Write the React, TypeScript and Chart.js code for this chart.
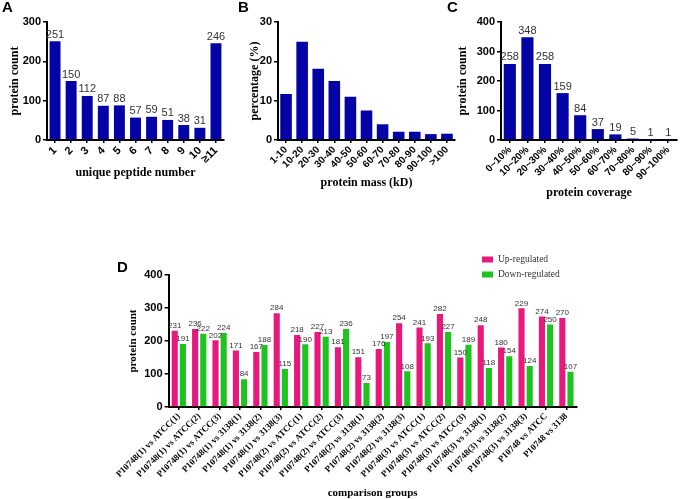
import React, { useEffect, useRef } from 'react';
import { Chart, registerables } from 'chart.js';

Chart.register(...registerables);

// ---------- Data ----------
const peptideLabels = ['1', '2', '3', '4', '5', '6', '7', '8', '9', '10', '≥11'];
const peptideCounts = [251, 150, 112, 87, 88, 57, 59, 51, 38, 31, 246];

const massLabels = ['1-10', '10-20', '20-30', '30-40', '40-50', '50-60', '60-70', '70-80', '80-90', '90-100', '>100'];
const massPercent = [11.7, 25, 18.1, 15, 11, 7.5, 4, 2.1, 2.1, 1.5, 1.6];

const coverageLabels = ['0~10%', '10~20%', '20~30%', '30~40%', '40~50%', '50~60%', '60~70%', '70~80%', '80~90%', '90~100%'];
const coverageCounts = [258, 348, 258, 159, 84, 37, 19, 5, 1, 1];

const groupLabels = [
  'P10748(1) vs ATCC(1)', 'P10748(1) vs ATCC(2)', 'P10748(1) vs ATCC(3)',
  'P10748(1) vs 3138(1)', 'P10748(1) vs 3138(2)', 'P10748(1) vs 3138(3)',
  'P10748(2) vs ATCC(1)', 'P10748(2) vs ATCC(2)', 'P10748(2) vs ATCC(3)',
  'P10748(2) vs 3138(1)', 'P10748(2) vs 3138(2)', 'P10748(2) vs 3138(3)',
  'P10748(3) vs ATCC(1)', 'P10748(3) vs ATCC(2)', 'P10748(3) vs ATCC(3)',
  'P10748(3) vs 3138(1)', 'P10748(3) vs 3138(2)', 'P10748(3) vs 3138(3)',
  'P10748 vs ATCC', 'P10748 vs 3138',
];
const upValues = [231, 236, 202, 171, 167, 284, 218, 227, 181, 151, 176, 254, 241, 282, 150, 248, 180, 299, 274, 270];
const downValues = [191, 222, 224, 84, 188, 115, 190, 213, 236, 73, 197, 108, 193, 227, 189, 118, 154, 124, 250, 107];
// printed labels (the source prints "229" above the bar that reaches ~299)
const upPrinted = ['231', '236', '202', '171', '167', '284', '218', '227', '181', '151', '176', '254', '241', '282', '150', '248', '180', '229', '274', '270'];
const downPrinted = downValues.map((v) => String(v));
const seriesNames = ['Up-regulated', 'Down-regulated'];

// ---------- Styles ----------
const BLUE = '#0404a6';
const PINK = '#e8187c';
const GREEN = '#1ec41e';
const SERIF = "'Liberation Serif', 'Times New Roman', serif";
const SANS = "'Liberation Sans', Arial, sans-serif";

type Box = { x: number; y: number; w: number; h: number };
type Area = { l: number; t: number; r: number; b: number };

interface PanelSpec {
  box: Box;
  area: Area;
  labels: string[];
  datasets: any[];
  texts: string[][];
  valueFontSize: number;
  yMax: number;
  yStep: number;
  yTitle: string;
  xTitle: string;
  yTitleOffset: number;
  xTitleBottom: number;
  xTickFont: any;
  yTickFontSize: number;
  titleSize: number;
  legend?: boolean;
}

function buildConfig(s: PanelSpec): any {
  const { box, area } = s;
  const valuePlugin = {
    id: 'valueLabels',
    afterDatasetsDraw(chart: any) {
      const ctx = chart.ctx;
      ctx.save();
      ctx.font = `${s.valueFontSize}px ${SANS}`;
      ctx.fillStyle = '#333';
      ctx.textAlign = 'center';
      ctx.textBaseline = 'bottom';
      chart.data.datasets.forEach((_: any, di: number) => {
        const meta = chart.getDatasetMeta(di);
        meta.data.forEach((el: any, i: number) => {
          ctx.fillText(s.texts[di][i], el.x, el.y - 1);
        });
      });
      ctx.restore();
    },
  };
  const legendPlugin = {
    id: 'customLegend',
    afterDraw(chart: any) {
      if (!s.legend) return;
      const ctx = chart.ctx;
      ctx.save();
      const items = [
        { c: PINK, t: seriesNames[0], y: 259.5 },
        { c: GREEN, t: seriesNames[1], y: 274.5 },
      ];
      ctx.font = `9.5px ${SERIF}`;
      ctx.textBaseline = 'middle';
      ctx.textAlign = 'left';
      items.forEach((it) => {
        ctx.fillStyle = it.c;
        ctx.fillRect(482 - box.x, it.y - 3 - box.y, 11, 6);
        ctx.fillStyle = '#333';
        ctx.fillText(it.t, 498 - box.x, it.y - box.y);
      });
      ctx.restore();
    },
  };
  const gridCommon = {
    display: true,
    drawOnChartArea: false,
    drawTicks: true,
    color: '#000',
    lineWidth: 1.5,
  };
  return {
    type: 'bar',
    data: { labels: s.labels, datasets: s.datasets },
    options: {
      responsive: false,
      maintainAspectRatio: false,
      animation: false,
      devicePixelRatio: 1,
      layout: {
        padding: { left: 0, top: area.t - box.y, right: box.x + box.w - area.r, bottom: 0 },
      },
      plugins: { legend: { display: false }, tooltip: { enabled: false } },
      scales: {
        x: {
          offset: true,
          grid: { ...gridCommon, tickLength: 3, offset: false },
          border: { display: true, color: '#000', width: 2 },
          ticks: { autoSkip: false, maxRotation: 45, minRotation: 45, font: s.xTickFont, color: '#000', padding: 1 },
          title: {
            display: true,
            text: s.xTitle,
            color: '#000',
            font: { family: SERIF, weight: 'bold', size: s.titleSize },
            padding: { top: 0, bottom: s.xTitleBottom },
          },
          afterFit: (sc: any) => {
            sc.height = box.y + box.h - area.b;
          },
        },
        y: {
          min: 0,
          max: s.yMax,
          grid: { ...gridCommon, tickLength: 4 },
          border: { display: true, color: '#000', width: 2 },
          ticks: { stepSize: s.yStep, font: { family: SANS, weight: 'bold', size: s.yTickFontSize }, color: '#000', padding: 2 },
          title: {
            display: true,
            text: s.yTitle,
            color: '#000',
            font: { family: SERIF, weight: 'bold', size: s.titleSize },
            padding: { top: s.yTitleOffset, bottom: 0 },
          },
          afterFit: (sc: any) => {
            sc.width = area.l - box.x;
          },
        },
      },
    },
    plugins: [valuePlugin, legendPlugin],
  };
}

function Panel({ spec }: { spec: PanelSpec }) {
  const ref = useRef<HTMLCanvasElement>(null);
  useEffect(() => {
    const chart = new Chart(ref.current as HTMLCanvasElement, buildConfig(spec));
    return () => chart.destroy();
  }, []);
  const { box } = spec;
  return (
    <canvas
      ref={ref}
      width={box.w}
      height={box.h}
      style={{ position: 'absolute', left: box.x, top: box.y, width: box.w, height: box.h }}
    />
  );
}

const singleBar = (data: number[], pct: number) => ({
  data,
  backgroundColor: BLUE,
  borderWidth: 0,
  categoryPercentage: 1,
  barPercentage: pct,
});

const specA: PanelSpec = {
  box: { x: 0, y: 0, w: 232, h: 205 },
  area: { l: 47, t: 22, r: 224, b: 140 },
  labels: peptideLabels,
  datasets: [singleBar(peptideCounts, 0.68)],
  texts: [peptideCounts.map((v) => String(v))],
  valueFontSize: 11,
  yMax: 300,
  yStep: 100,
  yTitle: 'protein count',
  xTitle: 'unique peptide number',
  yTitleOffset: 8,
  xTitleBottom: 25,
  xTickFont: { family: SANS, weight: 'bold', size: 11 },
  yTickFontSize: 11,
  titleSize: 12,
};

const specB: PanelSpec = {
  box: { x: 232, y: 0, w: 228, h: 205 },
  area: { l: 278, t: 22, r: 455, b: 140 },
  labels: massLabels,
  datasets: [singleBar(massPercent, 0.72)],
  texts: [massPercent.map(() => '')],
  valueFontSize: 11,
  yMax: 30,
  yStep: 10,
  yTitle: 'percentage (%)',
  xTitle: 'protein mass (kD)',
  yTitleOffset: 16,
  xTitleBottom: 15,
  xTickFont: { family: SANS, weight: 'bold', size: 10 },
  yTickFontSize: 11,
  titleSize: 12,
};

const specC: PanelSpec = {
  box: { x: 455, y: 0, w: 226, h: 205 },
  area: { l: 501, t: 22, r: 677, b: 140 },
  labels: coverageLabels,
  datasets: [singleBar(coverageCounts, 0.69)],
  texts: [coverageCounts.map((v) => String(v))],
  valueFontSize: 11,
  yMax: 400,
  yStep: 100,
  yTitle: 'protein count',
  xTitle: 'protein coverage',
  yTitleOffset: 1,
  xTitleBottom: 5,
  xTickFont: { family: SANS, weight: 'bold', size: 10 },
  yTickFontSize: 11,
  titleSize: 12,
};

const specD: PanelSpec = {
  box: { x: 100, y: 250, w: 581, h: 250 },
  area: { l: 168.6, t: 275, r: 576.6, b: 407 },
  labels: groupLabels,
  datasets: [
    { label: seriesNames[0], data: upValues, backgroundColor: PINK, categoryPercentage: 0.8, barPercentage: 0.75 },
    { label: seriesNames[1], data: downValues, backgroundColor: GREEN, categoryPercentage: 0.8, barPercentage: 0.75 },
  ],
  texts: [upPrinted, downPrinted],
  valueFontSize: 8,
  yMax: 400,
  yStep: 100,
  yTitle: 'protein count',
  xTitle: 'comparison groups',
  yTitleOffset: 27,
  xTitleBottom: 0,
  xTickFont: { family: SERIF, weight: 'bold', size: 9 },
  yTickFontSize: 11,
  titleSize: 11,
  legend: true,
};

const letterStyle = (x: number, y: number): React.CSSProperties => ({
  position: 'absolute',
  left: x,
  top: y,
  font: `bold 15px ${SANS}`,
  color: '#000',
  lineHeight: '15px',
});

export default function App() {
  return (
    <div
      style={{
        position: 'fixed',
        left: 0,
        top: 0,
        width: 681,
        height: 499,
        overflow: 'hidden',
        background: '#fff',
      }}
    >
      <Panel spec={specA} />
      <Panel spec={specB} />
      <Panel spec={specC} />
      <Panel spec={specD} />
      <div style={letterStyle(2, -1)}>A</div>
      <div style={letterStyle(238, -1)}>B</div>
      <div style={letterStyle(447, -1)}>C</div>
      <div style={letterStyle(117, 259)}>D</div>
    </div>
  );
}
